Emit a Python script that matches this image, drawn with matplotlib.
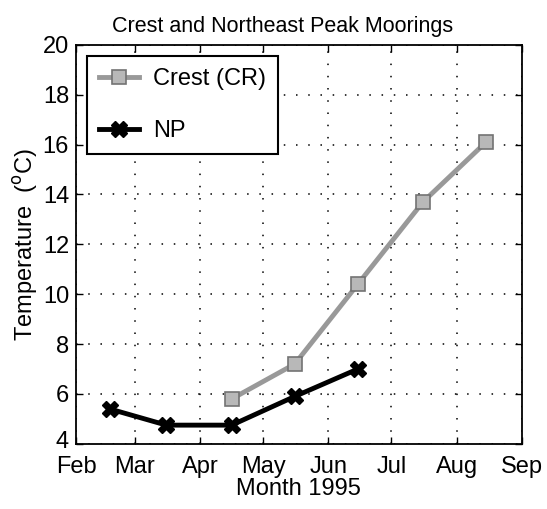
import numpy as np
import matplotlib.pyplot as plt
from matplotlib.transforms import ScaledTranslation

plt.rcParams['font.family'] = ['Liberation Sans', 'DejaVu Sans']

# x values are day of year 1995, sampled mid-month
crest_day = [106, 136, 166, 197, 227]
crest_temp = [5.8, 7.2, 10.4, 13.7, 16.1]

np_day = [48, 75, 106, 136, 166]
np_temp = [5.4, 4.75, 4.75, 5.9, 7.0]

# first day of each month
month_ticks = [32, 60, 91, 121, 152, 182, 213, 244]
month_labels = ['Feb', 'Mar', 'Apr', 'May', 'Jun', 'Jul', 'Aug', 'Sep']

fs = 17

fig = plt.figure(figsize=(5.47, 5.09), dpi=100)
ax = fig.add_axes([0.139, 0.128, 0.815, 0.784])

ax.plot(crest_day, crest_temp, color='0.6', lw=3.5, marker='s', ms=10,
        mfc='0.72', mec='0.45', mew=1.2, label='Crest (CR)')
ax.plot(np_day, np_temp, color='black', lw=3.5, marker='X', ms=11,
        mfc='black', mec='black', label='NP')

ax.set_xlim(32, 244)
ax.set_ylim(4, 20)
ax.set_xticks(month_ticks)
ax.set_xticklabels(month_labels)
ax.set_yticks(np.arange(4, 21, 2))

ax.grid(True, color='black', linestyle=(0, (1, 7)), linewidth=1.1)
ax.tick_params(direction='in', top=True, right=True, labelsize=fs, length=5,
               width=1)
ax.tick_params(axis='x', pad=9)
ax.tick_params(axis='y', pad=5)
for s in ax.spines.values():
    s.set_linewidth(1.3)

# nudge the bottom y label up so it clears "Feb"
lbl = ax.get_yticklabels()[0]
lbl.set_transform(lbl.get_transform() + ScaledTranslation(0, 3 / 72, fig.dpi_scale_trans))

ax.set_title('Crest and Northeast Peak Moorings', fontsize=15.5, pad=9,
             x=0.464)
ax.set_xlabel('Month 1995', fontsize=fs, labelpad=0)
ax.set_ylabel('Temperature  ($^\\mathrm{o}$C)', fontsize=fs, labelpad=2)

leg = ax.legend(loc='upper left', fontsize=fs, frameon=True, fancybox=False,
                edgecolor='black', borderpad=0.5, labelspacing=1.3,
                handlelength=1.7, handletextpad=0.6, borderaxespad=0,
                bbox_to_anchor=(0.025, 0.972))
leg.get_frame().set_linewidth(1.5)
leg.get_frame().set_alpha(1)

fig.savefig('out.png', dpi=100)
